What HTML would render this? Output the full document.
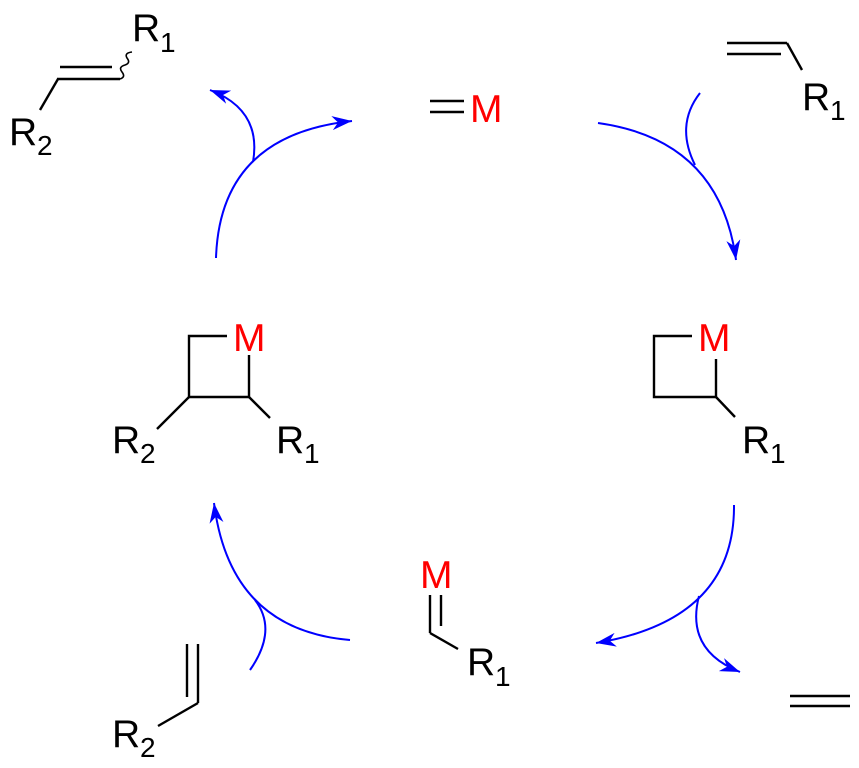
<!DOCTYPE html>
<html><head><meta charset="utf-8"><style>html,body{margin:0;padding:0;background:#fff}svg{display:block}</style></head>
<body>
<svg width="859" height="768" viewBox="0 0 859 768" xmlns="http://www.w3.org/2000/svg" font-family="'Liberation Sans', Arial, sans-serif">
<defs>
<marker id="ah" markerUnits="userSpaceOnUse" markerWidth="22" markerHeight="16" refX="20" refY="7" orient="auto">
<path d="M0,0 L20,7 L0,14 L6,7 Z" fill="#0000ff"/>
</marker>
</defs>
<g stroke="#000" stroke-width="2.4" fill="none">
<line x1="60" y1="67" x2="112" y2="67"/>
<line x1="57" y1="79" x2="120" y2="79"/>
<line x1="58" y1="79" x2="40" y2="110"/>
<path d="M120,79 q6,-2 2,-7 q-4,-5 3,-7 q6,-2 2,-7 q-3,-5 5,-6" stroke-width="1.6"/>
<line x1="430" y1="101" x2="464" y2="101"/>
<line x1="430" y1="112" x2="464" y2="112"/>
<line x1="727" y1="43" x2="787" y2="43"/>
<line x1="727" y1="54" x2="781" y2="54"/>
<line x1="787" y1="43" x2="802" y2="70"/>
<polyline points="692,336 654,336 654,397 716,397 716,359"/>
<line x1="716" y1="397" x2="735" y2="417"/>
<polyline points="227,336 189,336 189,397 249,397 249,355"/>
<line x1="189" y1="397" x2="157" y2="429"/>
<line x1="249" y1="397" x2="270" y2="418"/>
<line x1="430" y1="595" x2="430" y2="633"/>
<line x1="441" y1="595" x2="441" y2="626"/>
<line x1="430" y1="633" x2="458" y2="649"/>
<line x1="187" y1="644" x2="187" y2="697"/>
<line x1="198" y1="644" x2="198" y2="703"/>
<line x1="198" y1="703" x2="158" y2="726"/>
<line x1="790" y1="696" x2="850" y2="696"/>
<line x1="790" y1="706" x2="850" y2="706"/>
</g>
<g stroke="#0000ff" stroke-width="2" fill="none">
<path d="M216,258 Q220,135 352,121" marker-end="url(#ah)"/>
<path d="M253,162 Q262,110 210,90" marker-end="url(#ah)"/>
<path d="M598,123 Q720,140 736,260" marker-end="url(#ah)"/>
<path d="M700,93 Q675,125 695,165"/>
<path d="M734,505 Q735,620 596,643" marker-end="url(#ah)"/>
<path d="M699,596 Q685,650 740,672" marker-end="url(#ah)"/>
<path d="M350,640 Q230,630 214,503" marker-end="url(#ah)"/>
<path d="M250,670 Q278,630 255,600"/>
</g>
<g font-size="39" fill="#000">
<text x="132" y="41">R</text><text x="160" y="52" font-size="28">1</text>
<text x="9" y="145">R</text><text x="37" y="155" font-size="28">2</text>
<text x="802" y="110">R</text><text x="830" y="120" font-size="28">1</text>
<text x="742" y="453">R</text><text x="770" y="463" font-size="28">1</text>
<text x="112" y="453">R</text><text x="140" y="463" font-size="28">2</text>
<text x="276" y="453">R</text><text x="304" y="463" font-size="28">1</text>
<text x="467" y="675">R</text><text x="495" y="686" font-size="28">1</text>
<text x="112" y="747">R</text><text x="140" y="757" font-size="28">2</text>
</g>
<g font-size="39" fill="#ff0000">
<text x="470" y="122">M</text>
<text x="698" y="351">M</text>
<text x="233" y="351">M</text>
<text x="420" y="588">M</text>
</g>
</svg>
</body></html>
